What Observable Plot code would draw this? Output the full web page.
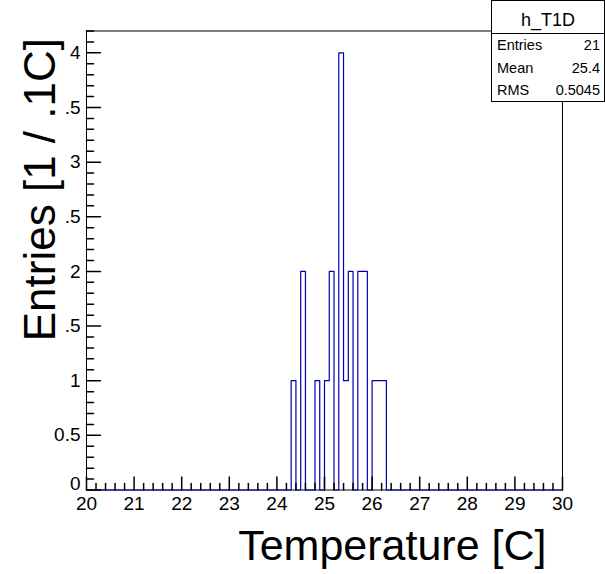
<!DOCTYPE html>
<html>
<head>
<meta charset="utf-8">
<script src="https://cdn.jsdelivr.net/npm/d3@7"></script>
<script src="https://cdn.jsdelivr.net/npm/@observablehq/plot@0.6"></script>
<style>
  body { margin: 0; background: #fff; }
  #chart { position: relative; width: 605px; height: 574px; }
</style>
</head>
<body>
<div id="chart"></div>
<script>
const binLow   = [24.3, 24.5, 24.8, 25.0, 25.1, 25.3, 25.4, 25.5, 25.7, 25.8, 26.0, 26.1, 26.2];
const binCount = [1,    2,    1,    1,    2,    4,    1,    2,    2,    2,    1,    1,    1];
const binWidth = 0.1;
const xDomain  = [20, 30];
const yDomain  = [0, 4.2];

const xMajor  = [20, 21, 22, 23, 24, 25, 26, 27, 28, 29, 30];
const xLabels = ["20", "21", "22", "23", "24", "25", "26", "27", "28", "29", "30"];
const yMajor  = [0, 0.5, 1, 1.5, 2, 2.5, 3, 3.5, 4];
const yLabels = ["0", "0.5", "1", ".5", "2", ".5", "3", ".5", "4"];

const statsTitle  = "h_T1D";
const statsNames  = ["Entries", "Mean", "RMS"];
const statsValues = ["21", "25.4", "0.5045"];

const xTitle = "Temperature [C]";
const yTitle = "Entries [1 / .1C]";

// minor ticks (ROOT 510 divisions: 5 secondary per primary)
const xMinor = d3.range(200, 301, 2).map(v => v / 10).filter(v => !xMajor.includes(v));
const yMinor = d3.range(0, 43, 1).map(v => v / 10).filter(v => !yMajor.some(m => Math.abs(m - v) < 1e-9));

// full histogram outline (zero-count bins included)
const nBins = Math.round((xDomain[1] - xDomain[0]) / binWidth);
const lookup = new Map(binLow.map((x, i) => [Math.round(x * 10), binCount[i]]));
const outline = [];
for (let i = 0; i < nBins; i++) {
  const lo = xDomain[0] + i * binWidth;
  outline.push({x: lo, y: lookup.get(Math.round(lo * 10)) ?? 0});
}
outline.push({x: xDomain[1], y: 0});

const tickShape = {draw(context, l) { context.moveTo(0, 0); context.lineTo(0, -l); }};
const font = "'Liberation Sans', Arial, Helvetica, sans-serif";

const yIdx = yMajor.map((d, i) => i);

const chart = Plot.plot({
  width: 605,
  height: 574,
  marginLeft: 86,
  marginRight: 43,
  marginTop: 30.5,
  marginBottom: 84.5,
  style: {fontFamily: font, background: "#fff", color: "#000"},
  x: {domain: xDomain, axis: null},
  y: {domain: yDomain, axis: null},
  marks: [
    Plot.frame({stroke: "#000", strokeWidth: 1}),
    Plot.line(outline, {x: "x", y: "y", curve: "step-after", stroke: "#0000b0", strokeWidth: 1.2}),
    // x ticks
    Plot.vector(xMajor, {x: d => d, frameAnchor: "bottom", rotate: 0, length: 13, anchor: "start", shape: tickShape, stroke: "#000"}),
    Plot.vector(xMinor, {x: d => d, frameAnchor: "bottom", rotate: 0, length: 6.5, anchor: "start", shape: tickShape, stroke: "#000"}),
    // y ticks
    Plot.vector(yMajor, {y: d => d, frameAnchor: "left", rotate: 90, length: 14, anchor: "start", shape: tickShape, stroke: "#000"}),
    Plot.vector(yMinor, {y: d => d, frameAnchor: "left", rotate: 90, length: 7, anchor: "start", shape: tickShape, stroke: "#000"}),
    // tick labels
    Plot.text(xMajor, {x: d => d, text: (d, i) => xLabels[i], frameAnchor: "bottom", lineAnchor: "top", dy: 6, fontSize: 19, fill: "#000"}),
    Plot.text(yIdx.slice(1), {y: i => yMajor[i], text: i => yLabels[i], frameAnchor: "left", textAnchor: "end", dx: -6, fontSize: 19, fill: "#000"}),
    Plot.text(yIdx.slice(0, 1), {y: i => yMajor[i], text: i => yLabels[i], frameAnchor: "left", textAnchor: "end", lineAnchor: "bottom", dx: -6, dy: 0, fontSize: 19, fill: "#000"}),
    // axis titles
    Plot.text([xTitle], {text: d => d, frameAnchor: "bottom-right", textAnchor: "end", lineAnchor: "bottom", dx: -16, dy: 70, fontSize: 43, fill: "#000"}),
    Plot.text([yTitle], {text: d => d, frameAnchor: "top-left", rotate: -90, textAnchor: "end", lineAnchor: "bottom", dx: -32, dy: 7, fontSize: 44, fill: "#000"})
  ]
});

document.getElementById("chart").appendChild(chart);

// ---- Stats box (ROOT TPaveStats) ----
const svg = d3.select(chart);
const box = svg.append("g").attr("font-family", font).attr("fill", "#000");
const bx0 = 491.5, bx1 = 604.5, by0 = 0.5, by1 = 101.5, hdr = 33.5;
box.append("rect").attr("x", bx0).attr("y", by0).attr("width", bx1 - bx0).attr("height", by1 - by0)
  .attr("fill", "#fff").attr("stroke", "#000").attr("stroke-width", 1);
box.append("line").attr("x1", bx0).attr("x2", bx1).attr("y1", hdr).attr("y2", hdr)
  .attr("stroke", "#000").attr("stroke-width", 1);
box.append("text").attr("x", (bx0 + bx1) / 2).attr("y", 26).attr("text-anchor", "middle")
  .attr("font-size", 18).text(statsTitle);
const rowH = (by1 - hdr) / statsNames.length;
statsNames.forEach((name, i) => {
  const yb = hdr + rowH * (i + 0.5) + 5;
  box.append("text").attr("x", 497).attr("y", yb).attr("font-size", 14.5).attr("text-anchor", "start").text(name);
  box.append("text").attr("x", 600).attr("y", yb).attr("font-size", 14.5).attr("text-anchor", "end").text(statsValues[i]);
});
</script>
</body>
</html>
